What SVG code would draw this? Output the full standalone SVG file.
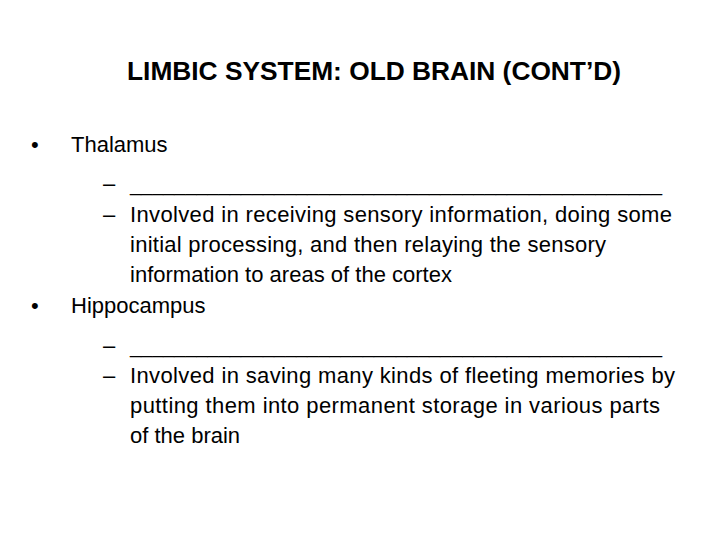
<svg xmlns="http://www.w3.org/2000/svg" width="720" height="540" viewBox="0 0 720 540">
<style>
text{font-family:"Liberation Sans",Arial,sans-serif;fill:#000;font-size:22px}
.t{font-weight:bold;font-size:25px}
</style>
<rect width="720" height="540" fill="#fff"/>
<text class="t" x="127" y="80" textLength="494" lengthAdjust="spacingAndGlyphs">LIMBIC SYSTEM: OLD BRAIN (CONT’D)</text>
<text x="31" y="152">•</text>
<text x="71" y="152">Thalamus</text>
<text x="103" y="191">–</text>
<text x="130" y="191" textLength="532" lengthAdjust="spacingAndGlyphs">________________________________________________</text>
<text x="103" y="222">–</text>
<text x="130" y="222" textLength="542">Involved in receiving sensory information, doing some</text>
<text x="130" y="252" textLength="476">initial processing, and then relaying the sensory</text>
<text x="130" y="282" textLength="322">information to areas of the cortex</text>
<text x="31" y="313">•</text>
<text x="71" y="313">Hippocampus</text>
<text x="103" y="353">–</text>
<text x="130" y="353" textLength="532" lengthAdjust="spacingAndGlyphs">________________________________________________</text>
<text x="103" y="383">–</text>
<text x="130" y="383" textLength="545">Involved in saving many kinds of fleeting memories by</text>
<text x="130" y="413" textLength="530">putting them into permanent storage in various parts</text>
<text x="130" y="443">of the brain</text>
</svg>
